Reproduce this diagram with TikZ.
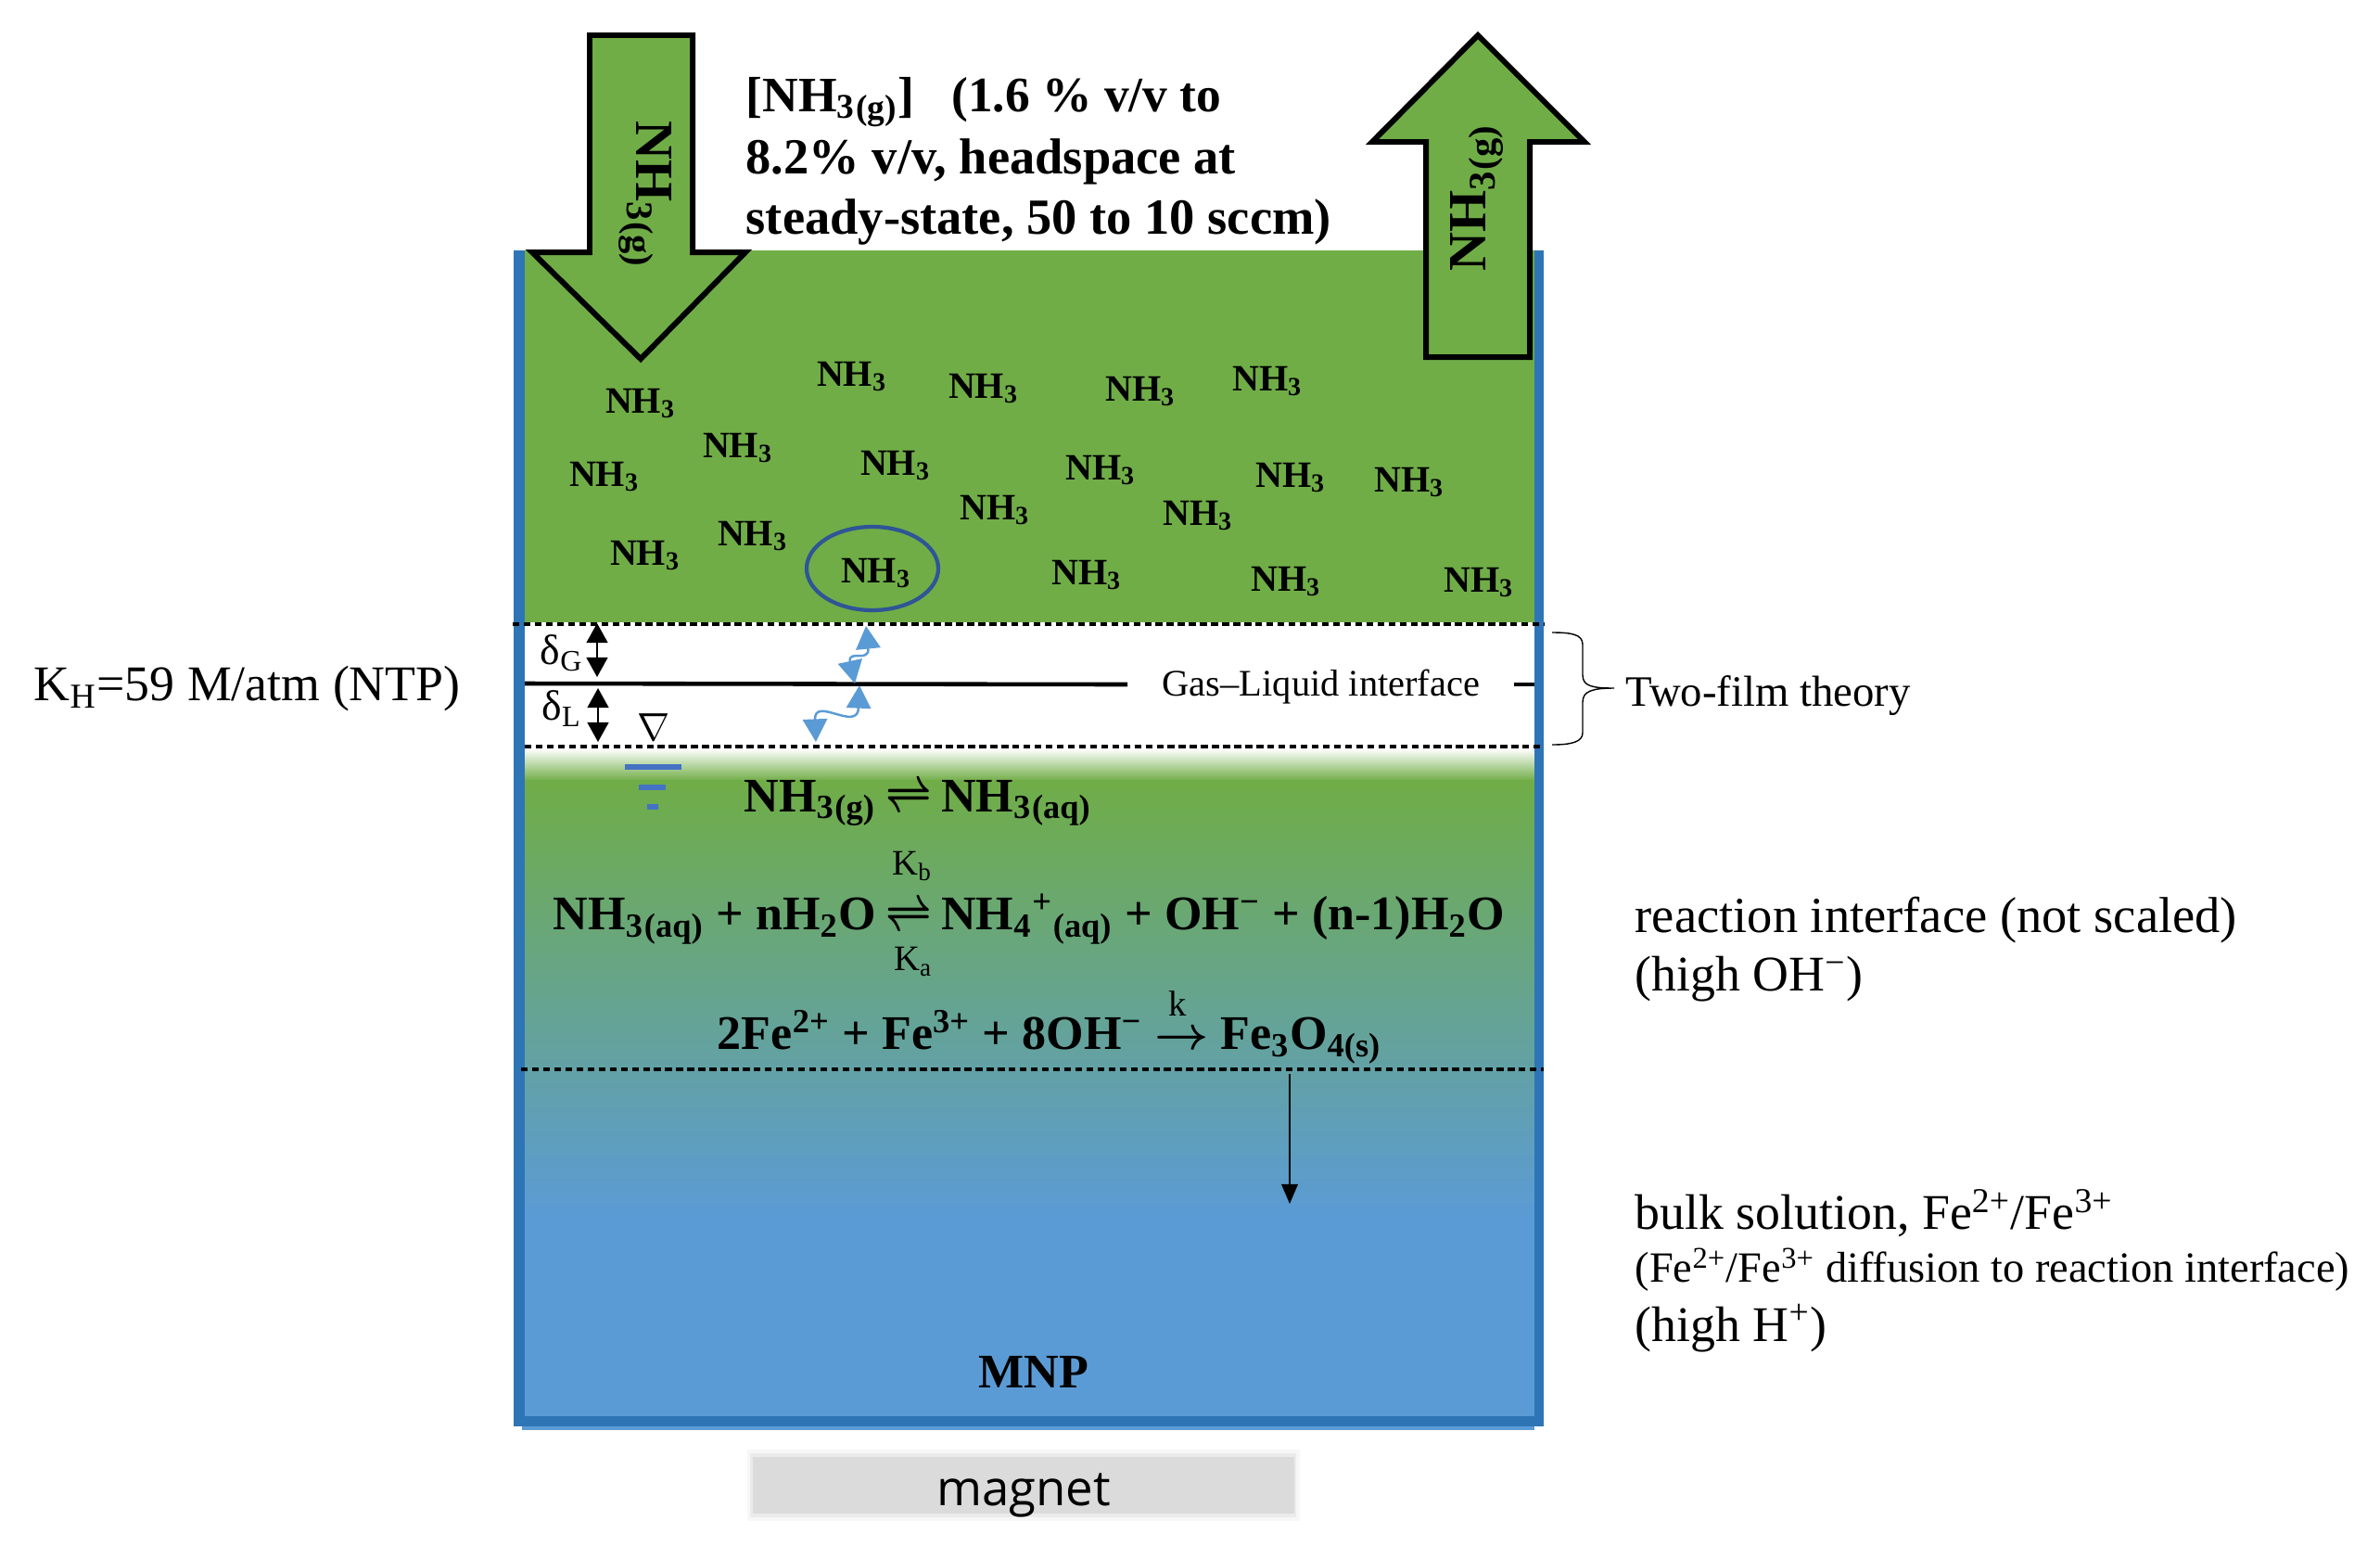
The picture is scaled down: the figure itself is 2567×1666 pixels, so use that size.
\documentclass[tikz,border=0pt]{standalone}
\usepackage{fontspec}
\setmainfont{Liberation Serif}
\newfontfamily\magnetfont{Open Sans}
\usetikzlibrary{arrows.meta}
\definecolor{gasgreen}{HTML}{70AD47}
\definecolor{bulkblue}{HTML}{5B9BD5}
\definecolor{wallblue}{HTML}{2E75B6}
\definecolor{ringblue}{HTML}{2F5597}
\definecolor{levelblue}{HTML}{4472C4}
\newcommand{\nhthree}{NH\textsubscript{3}}
\newcommand{\minus}{\textsuperscript{−}}
\newcommand{\eqharp}{\hspace{0.2em}\scalebox{0.85}[1.15]{\boldmath$\rightleftharpoons$}\hspace{0.2em}}
\begin{document}
\begin{tikzpicture}[x=0.01cm,y=-0.01cm,nodes={inner sep=0pt},
	gasname/.style={font=\bfseries\fontsize{11.4}{13}\selectfont,xshift=0.02cm,yshift=-0.03cm},
	flowname/.style={font=\bfseries\fontsize{16.5}{19}\selectfont},
	headline/.style={font=\bfseries\fontsize{15.5}{17}\selectfont,anchor=west},
	eqn/.style={font=\bfseries\fontsize{14.8}{18}\selectfont},
	note/.style={font=\fontsize{15.3}{18}\selectfont,anchor=west},
	rate/.style={font=\fontsize{11}{13}\selectfont},
	filmname/.style={font=\fontsize{13}{15}\selectfont},
	bigarrow/.style={draw=black,line width=1.7pt,fill=gasgreen,miter limit=10},
	film/.style={dashed,dash pattern=on 2.1pt off 1.3pt,line width=1.1pt},
	wave/.style={<->,>={Triangle[length=7pt,width=7.5pt]},bulkblue,line width=0.7pt},
	thick arrow/.style={<->,>={Triangle[length=6pt,width=6.5pt]},line width=0.6pt}]
	\useasboundingbox (0,0) rectangle (2567,1666);
	\fill[gasgreen] (563,270) rectangle (1655,671);
	\shade[top color=white,bottom color=gasgreen] (563,807) rectangle (1655,842);
	\shade[top color=gasgreen,bottom color=bulkblue] (563,841) rectangle (1655,1310);
	\fill[bulkblue] (563,1309) rectangle (1655,1542);
	\fill[wallblue] (554,270) rectangle (566,1538);
	\fill[wallblue] (1655,270) rectangle (1665,1538);
	\fill[wallblue] (554,1527) rectangle (1665,1538);

	\coordinate (f1) at (553,673);
	\coordinate (f2) at (1665,673);
	\coordinate (f3) at (566,805);
	\coordinate (f4) at (1665,805);
	\coordinate (f5) at (562,1153);
	\coordinate (f6) at (1665,1153);
	\coordinate (i1) at (566,737);
	\coordinate (i2) at (1216,738);
	\coordinate (i3) at (1633,738);
	\coordinate (i4) at (1655,738);
	\draw[film] (f1) -- (f2);
	\draw[film] (f3) -- (f4);
	\draw[film] (f5) -- (f6);
	\draw[line width=1.3pt] (i1) -- (i2);
	\draw[line width=1.3pt] (i3) -- (i4);

	\draw[bigarrow] (636,38) -- (747,38) -- (747,272) -- (804,272) -- (691,387) -- (574,272) -- (636,272) -- cycle;
	\draw[bigarrow] (1538,385) -- (1650,385) -- (1650,153) -- (1709,153) -- (1594,38) -- (1480,153) -- (1538,153) -- cycle;
	\node (down) [flowname,rotate=-90] at (696,210) {\nhthree\textsubscript{(g)}};
	\node (up) [flowname,rotate=90] at (1593,213) {\nhthree\textsubscript{(g)}};

	\node (head1) [headline,font=\bfseries\fontsize{15.2}{17}\selectfont] at (804,110) {[\nhthree\textsubscript{(g)}]\ \ \ (1.6 \% v/v to};
	\node (head2) [headline] at (804,174) {8.2\% v/v, headspace at};
	\node (head3) [headline] at (804,239) {steady-state, 50 to 10 sccm)};

	\node (n1) [gasname] at (689,432) {\nhthree};
	\node (n2) [gasname] at (917,403) {\nhthree};
	\node (n3) [gasname] at (1059,416) {\nhthree};
	\node (n4) [gasname] at (1228,419) {\nhthree};
	\node (n5) [gasname] at (1365,408) {\nhthree};
	\node (n6) [gasname] at (650,511) {\nhthree};
	\node (n7) [gasname] at (794,480) {\nhthree};
	\node (n8) [gasname] at (964,499) {\nhthree};
	\node (n9) [gasname] at (1071,547) {\nhthree};
	\node (n10) [gasname] at (1185,504) {\nhthree};
	\node (n11) [gasname] at (1290,553) {\nhthree};
	\node (n12) [gasname] at (1390,512) {\nhthree};
	\node (n13) [gasname] at (1518,517) {\nhthree};
	\node (n14) [gasname] at (694,596) {\nhthree};
	\node (n15) [gasname] at (810,575) {\nhthree};
	\node (n16) [gasname] at (943,615) {\nhthree};
	\node (n17) [gasname] at (1170,617) {\nhthree};
	\node (n18) [gasname] at (1385,624) {\nhthree};
	\node (n19) [gasname] at (1593,625) {\nhthree};
	\draw[ringblue,line width=1.2pt] (941,613) ellipse (71 and 45);

	\node (dG) [filmname] at (606,704) {δ\textsubscript{G}};
	\node (dL) [filmname] at (606,764) {δ\textsubscript{L}};
	\coordinate (g1) at (644,672);
	\coordinate (g2) at (644,730);
	\coordinate (l1) at (645,742);
	\coordinate (l2) at (645,800);
	\draw[thick arrow] (g1) -- (g2);
	\draw[thick arrow] (l1) -- (l2);
	\node (level) [font=\fontsize{11.5}{14}\selectfont] at (705,784) {$\nabla$};
	\coordinate (m1) at (674,827);
	\coordinate (m2) at (735,827);
	\coordinate (m3) at (689,849);
	\coordinate (m4) at (718,849);
	\coordinate (m5) at (698,870);
	\coordinate (m6) at (710,870);
	\draw[levelblue,line width=1.7pt] (m1) -- (m2);
	\draw[levelblue,line width=1.7pt] (m3) -- (m4);
	\draw[levelblue,line width=1.7pt] (m5) -- (m6);

	\coordinate (w1) at (934,675);
	\coordinate (w2) at (922,737);
	\coordinate (w3) at (927,739);
	\coordinate (w4) at (880,800);
	\draw[wave] (w1) .. controls (938,715) and (914,700) .. (w2);
	\draw[wave] (w3) .. controls (925,790) and (878,750) .. (w4);

	\node (kh) [note] at (36,743) {K\textsubscript{H}=59 M/atm (NTP)};
	\node (gl) [rate,font=\fontsize{11.5}{13}\selectfont] at (1425,741) {Gas–Liquid interface};
	\node (film) [note,font=\fontsize{13.3}{16}\selectfont] at (1753,750) {Two-film theory};
	\coordinate (b1) at (1674,682);
	\coordinate (b2) at (1741,742);
	\coordinate (b3) at (1674,803);
	\draw[line width=0.4pt] (b1) .. controls (1695,682) and (1707,684) .. (1707,695) -- (1707,728) .. controls (1707,740) and (1718,742) .. (b2) .. controls (1718,742) and (1707,745) .. (1707,757) -- (1707,790) .. controls (1707,800) and (1695,803) .. (b3);

	\node (eq1) [eqn] at (990,866) {\nhthree\textsubscript{(g)}\eqharp\nhthree\textsubscript{(aq)}};
	\node (kb) [rate] at (984,934) {K\textsubscript{b}};
	\node (eq2) [eqn] at (1110,991) {\nhthree\textsubscript{(aq)} + nH\textsubscript{2}O\eqharp NH\textsubscript{4}\textsuperscript{+}\textsubscript{(aq)} + OH\minus{} + (n-1)H\textsubscript{2}O};
	\node (ka) [rate] at (985,1037) {K\textsubscript{a}};
	\node (k) [rate] at (1270,1082) {k};
	\node (eq3) [eqn] at (1132,1118) {2Fe\textsuperscript{2+} + Fe\textsuperscript{3+} + 8OH\minus{} {\boldmath$\rightarrow$} Fe\textsubscript{3}O\textsubscript{4(s)}};
	\coordinate (s1) at (1391,1158);
	\coordinate (s2) at (1391,1298);
	\draw[-{Triangle[length=6pt,width=5pt]},line width=0.5pt] (s1) -- (s2);

	\node (react1) [note,font=\fontsize{15.5}{18}\selectfont] at (1763,992) {reaction interface (not scaled)};
	\node (react2) [note] at (1763,1056) {(high OH\minus)};
	\node (bulk1) [note] at (1763,1308) {bulk solution, Fe\textsuperscript{2+}/Fe\textsuperscript{3+}};
	\node (bulk2) [note,font=\fontsize{13.2}{15}\selectfont] at (1763,1369) {(Fe\textsuperscript{2+}/Fe\textsuperscript{3+} diffusion to reaction interface)};
	\node (bulk3) [note] at (1763,1432) {(high H\textsuperscript{+})};
	\node (mnp) [eqn] at (1115,1479) {MNP};

	\fill[black!3] (806,1563) rectangle (1402,1640);
	\fill[black!8] (809,1567) rectangle (1398,1636);
	\fill[black!14] (812,1571) rectangle (1396,1632);
	\node (magnet) [font=\magnetfont\fontsize{15}{18}\selectfont] at (1104,1612) {magnet};
\end{tikzpicture}
\end{document}
